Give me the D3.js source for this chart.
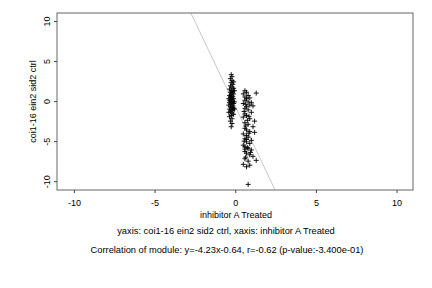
<!DOCTYPE html>
<html lang="en">
  <head>
    <meta charset="utf-8">
    <title>coi1-16 ein2 sid2 ctrl vs inhibitor A Treated</title>
    <script src="https://cdn.jsdelivr.net/npm/d3@7"></script>
    <style>
      body { margin: 0; background: #fff; }
      text { font-family: "Liberation Sans", Arial, sans-serif; font-size: 9px; fill: #000; }
      .title { font-size: 9.3px; }
    </style>
  </head>
  <body>
    <script>
      // tick values shared by both axes
      var xTicks = [-10, -5, 0, 5, 10];
      var yTicks = [-10, -5, 0, 5, 10];

      // regression line y = slope*x + intercept
      var slope = -4.23;
      var intercept = -0.64;

      // left group of points (x, y)
      var groupA = [
        [-0.25,3.3],[-0.2,3.05],[-0.3,2.8],[-0.2,2.55],[-0.25,2.3],[-0.15,2.1],[-0.3,1.9],
        [-0.2,1.75],[-0.1,1.6],[-0.35,1.5],[-0.25,1.35],[-0.15,1.2],[-0.3,1.1],[-0.2,1.0],
        [-0.1,0.9],[-0.25,0.8],[-0.35,0.7],[-0.15,0.6],[-0.3,0.5],[-0.2,0.4],[-0.1,0.3],
        [-0.25,0.2],[-0.35,0.1],[-0.15,0.0],[-0.3,-0.1],[-0.2,-0.2],[-0.1,-0.3],[-0.25,-0.4],
        [-0.4,-0.5],[-0.15,-0.6],[-0.3,-0.7],[-0.2,-0.8],[-0.1,-0.9],[-0.35,-1.0],[-0.25,-1.1],
        [-0.15,-1.2],[-0.3,-1.35],[-0.2,-1.5],[-0.1,-1.65],[-0.25,-1.8],[-0.35,-1.95],
        [-0.2,-2.2],[-0.3,-2.5],[-0.2,-2.8],[-0.25,-3.2],[-0.05,-0.1],[-0.4,0.3],[-0.05,1.3],
        [-0.4,-1.4],[-0.1,2.4],[-0.35,-0.2],[-0.05,-1.0]
      ];

      // right group of points (x, y)
      var groupB = [
        [0.6,1.3],[0.7,1.1],[0.5,0.9],[0.8,0.7],[0.6,0.5],[0.7,0.3],[1.3,1.0],[0.9,0.4],
        [0.6,0.1],[0.8,-0.1],[0.5,-0.3],[0.9,-0.5],[0.7,-0.7],[1.1,-0.6],[0.6,-0.9],
        [0.8,-1.1],[1.0,-1.4],[0.6,-1.6],[0.7,-1.8],[0.5,-2.0],[0.9,-2.2],[1.2,-2.5],
        [0.6,-2.7],[0.8,-2.9],[1.1,-3.2],[0.6,-3.4],[0.7,-3.6],[0.9,-3.8],[1.2,-3.9],
        [0.5,-4.1],[0.7,-4.3],[0.8,-4.5],[0.6,-4.7],[1.0,-4.9],[0.7,-5.1],[0.9,-5.3],
        [0.5,-5.5],[0.6,-5.7],[0.8,-5.9],[1.0,-6.1],[0.6,-6.3],[0.7,-6.5],[0.9,-6.7],
        [1.1,-6.9],[0.6,-7.2],[0.8,-7.5],[1.3,-7.4],[0.5,-7.9],[0.7,-8.2],[0.9,-8.0],
        [0.8,-10.4],[0.55,-1.3],[0.75,-2.4],[0.65,-3.1],[0.85,-4.0],[0.55,-5.0],[0.75,-5.8],
        [0.95,-6.4],[0.65,-7.0],[1.0,-0.2],[0.65,-0.4],[0.85,-1.9],[0.6,-6.0],[0.7,-4.8]
      ];

      var xLabel = "inhibitor A Treated";
      var yLabel = "coi1-16 ein2 sid2 ctrl";
      var title1 = "yaxis: coi1-16 ein2 sid2 ctrl, xaxis: inhibitor A Treated";
      var title2 = "Correlation of module: y=-4.23x-0.64, r=-0.62 (p-value:-3.400e-01)";

      var w = 432, h = 288;
      var padL = 57, padR = 413, padT = 13, padB = 190;

      var xScale = d3.scaleLinear().domain([-11.05, 11.02]).range([padL, padR]);
      var yScale = d3.scaleLinear().domain([-11.1, 11]).range([padB, padT]);

      var svg = d3.select("body").append("svg")
                  .attr("width", w)
                  .attr("height", h);

      svg.append("clipPath").attr("id", "plot-area")
         .append("rect")
         .attr("x", padL).attr("y", padT)
         .attr("width", padR - padL).attr("height", padB - padT);

      // regression line
      var xd = xScale.domain();
      svg.append("line")
         .attr("clip-path", "url(#plot-area)")
         .attr("x1", xScale(xd[0])).attr("y1", yScale(slope * xd[0] + intercept))
         .attr("x2", xScale(xd[1])).attr("y2", yScale(slope * xd[1] + intercept))
         .attr("stroke", "#c8c8c8")
         .attr("stroke-width", 1);

      // points as plus signs
      var pts = groupA.concat(groupB);
      svg.append("g").selectAll("path")
         .data(pts)
         .enter()
         .append("path")
         .attr("d", function (d) {
           var cx = xScale(d[0]), cy = yScale(d[1]);
           return "M" + (cx - 2.5) + "," + cy + "H" + (cx + 2.5) +
                  "M" + cx + "," + (cy - 2.5) + "V" + (cy + 2.5);
         })
         .attr("stroke", "#000")
         .attr("stroke-width", 0.9)
         .attr("fill", "none");

      // frame
      svg.append("rect")
         .attr("x", padL).attr("y", padT)
         .attr("width", padR - padL).attr("height", padB - padT)
         .attr("fill", "none")
         .attr("stroke", "#666")
         .attr("stroke-width", 1);

      var fmt = function (d) { return String(d); };
      var xAxis = d3.axisBottom(xScale).tickValues(xTicks).tickFormat(fmt).tickSize(3).tickPadding(7);
      var yAxis = d3.axisLeft(yScale).tickValues(yTicks).tickFormat(fmt).tickSize(3).tickPadding(3);

      var gx = svg.append("g")
         .attr("transform", "translate(0," + padB + ")")
         .call(xAxis);
      gx.select(".domain").remove();
      gx.selectAll("line").attr("stroke", "#444");

      var gy = svg.append("g")
         .attr("transform", "translate(" + padL + ",0)")
         .call(yAxis);
      gy.select(".domain").remove();
      gy.selectAll("line").attr("stroke", "#444");
      gy.selectAll("text")
        .attr("text-anchor", "middle")
        .attr("dy", null)
        .attr("x", null)
        .attr("transform", "translate(-7,0) rotate(-90)");

      svg.append("text")
         .attr("x", 236).attr("y", 218)
         .attr("text-anchor", "middle")
         .text(xLabel);

      svg.append("text")
         .attr("transform", "translate(36," + ((padT + padB) / 2) + ") rotate(-90)")
         .attr("text-anchor", "middle")
         .text(yLabel);

      svg.append("text")
         .attr("class", "title")
         .attr("x", 226).attr("y", 234)
         .attr("text-anchor", "middle")
         .text(title1);

      svg.append("text")
         .attr("class", "title")
         .attr("x", 227).attr("y", 253)
         .attr("text-anchor", "middle")
         .text(title2);
    </script>
  </body>
</html>
